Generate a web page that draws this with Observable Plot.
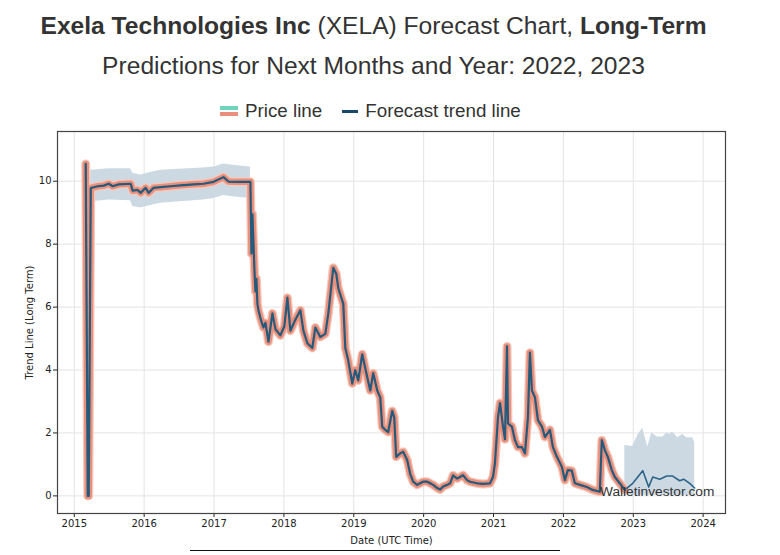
<!DOCTYPE html>
<html>
<head>
<meta charset="utf-8">
<script src="https://cdn.jsdelivr.net/npm/d3@7"></script>
<script src="https://cdn.jsdelivr.net/npm/@observablehq/plot@0.6"></script>
<style>
  html, body { margin: 0; padding: 0; background: #fff; }
  #wrap { position: relative; width: 780px; height: 555px; overflow: hidden; font-family: "Liberation Sans", Arial, sans-serif; }
  #title { position: absolute; top: 12px; left: 0; width: 747px; text-align: center; font-size: 24.6px; color: #333; white-space: nowrap; }
  #subtitle { position: absolute; top: 52px; left: 0; width: 747px; text-align: center; font-size: 24.6px; color: #333; white-space: nowrap; }
  #legend { position: absolute; top: 100px; left: 220px; font-size: 18.8px; color: #333; white-space: nowrap; display: flex; align-items: center; }
  .sw2 { display: inline-block; width: 18px; height: 10px; margin-right: 7px; position: relative; }
  .sw2 .a { position: absolute; left: 0; top: 0; width: 18px; height: 4px; background: #6fd4bc; }
  .sw2 .b { position: absolute; left: 0; top: 6px; width: 18px; height: 4px; background: #ea8f7b; }
  .sw1 { display: inline-block; width: 16px; height: 3px; background: #17486b; margin-right: 7px; }
  #chart { position: absolute; top: 120px; left: 0; }
  #wm { position: absolute; top: 484px; left: 600px; font-size: 13.7px; color: #333; white-space: nowrap; }
  #rule { position: absolute; top: 550px; left: 190px; width: 370px; height: 0; border-top: 1px solid #111; }
</style>
</head>
<body>
<div id="wrap">
  <div id="title"><b>Exela Technologies Inc</b> (XELA) Forecast Chart, <b>Long-Term</b></div>
  <div id="subtitle">Predictions for Next Months and Year: 2022, 2023</div>
  <div id="legend"><span class="sw2"><span class="a"></span><span class="b"></span></span><span>Price line</span><span style="display:inline-block;width:20px"></span><span class="sw1"></span><span>Forecast trend line</span></div>
  <div id="chart"></div>
  <div id="wm">Walletinvestor.com</div>
  <div id="rule"></div>
</div>
<script>
// Dates as decimal years
const priceYears = [
  2015.164, 2015.193, 2015.207, 2015.236, 2015.264, 2015.336, 2015.421, 2015.493, 2015.55, 2015.636,
  2015.807, 2015.836, 2015.907, 2015.95, 2016.021, 2016.064, 2016.136, 2016.236, 2016.379, 2016.521,
  2016.707, 2016.85, 2016.993, 2017.136, 2017.207, 2017.336, 2017.493, 2017.521, 2017.536, 2017.55,
  2017.579, 2017.593, 2017.607, 2017.621, 2017.636, 2017.664, 2017.707, 2017.736, 2017.779, 2017.836,
  2017.879, 2017.95, 2018.007, 2018.05, 2018.093, 2018.164, 2018.236, 2018.279, 2018.336, 2018.407,
  2018.45, 2018.521, 2018.593, 2018.636, 2018.707, 2018.75, 2018.779, 2018.807, 2018.85, 2018.879,
  2018.921, 2018.979, 2019.021, 2019.064, 2019.121, 2019.193, 2019.236, 2019.279, 2019.336, 2019.379,
  2019.407, 2019.45, 2019.493, 2019.55, 2019.579, 2019.607, 2019.664, 2019.707, 2019.764, 2019.807,
  2019.85, 2019.907, 2019.95, 2019.993, 2020.05, 2020.093, 2020.136, 2020.193, 2020.236, 2020.279,
  2020.336, 2020.379, 2020.421, 2020.479, 2020.521, 2020.564, 2020.621, 2020.664, 2020.764, 2020.85,
  2020.95, 2020.993, 2021.021, 2021.064, 2021.093, 2021.136, 2021.164, 2021.193, 2021.207, 2021.264,
  2021.307, 2021.35, 2021.407, 2021.45, 2021.493, 2021.521, 2021.55, 2021.593, 2021.636, 2021.693,
  2021.736, 2021.807, 2021.85, 2021.907, 2021.979, 2022.021, 2022.064, 2022.121, 2022.164, 2022.236,
  2022.336, 2022.421, 2022.521, 2022.55, 2022.593, 2022.636, 2022.693, 2022.736, 2022.807, 2022.879
];
const priceValues = [
  10.55, 0, 0, 9.78, 9.8, 9.84, 9.86, 9.92, 9.84, 9.9,
  9.92, 9.7, 9.72, 9.63, 9.79, 9.63, 9.79, 9.81, 9.84, 9.87,
  9.9, 9.92, 9.98, 10.13, 9.99, 9.98, 9.98, 9.98, 7.7, 8.95,
  7.15, 6.5, 6.9, 6.1, 5.9, 5.65, 5.35, 5.5, 4.9, 5.8,
  5.3, 5.1, 5.4, 6.3, 5.25, 5.6, 5.9, 5.25, 4.85, 4.7,
  5.35, 5.05, 5.15, 5.8, 7.25, 7.05, 6.6, 6.4, 6.1, 4.7,
  4.3, 3.57, 4.0, 3.67, 4.5, 3.77, 3.35, 3.9, 3.35, 3.13,
  2.2, 2.1, 2.03, 2.7, 2.5, 1.24, 1.35, 1.4, 1.14, 0.7,
  0.45, 0.35, 0.4, 0.45, 0.45, 0.4, 0.35, 0.25, 0.2, 0.3,
  0.35, 0.4, 0.65, 0.55, 0.6, 0.66, 0.5, 0.45, 0.4, 0.38,
  0.4, 0.6, 1.05, 2.5, 2.95, 2.2, 1.8, 4.75, 2.3, 2.2,
  1.77, 1.55, 1.55, 1.35, 2.5, 4.55, 3.35, 3.13, 2.4, 2.2,
  1.87, 2.1, 1.55, 1.24, 0.92, 0.5, 0.82, 0.8, 0.4, 0.35,
  0.28, 0.19, 0.13, 1.77, 1.45, 1.24, 0.82, 0.6, 0.4, 0.19
];

// Historic confidence band of the trend line
const bandYears = [2015.236, 2015.5, 2015.807, 2015.836, 2015.95, 2016.136, 2016.236, 2016.5, 2016.85, 2017.0, 2017.136, 2017.3, 2017.521];
const bandLow   = [9.35, 9.4, 9.38, 9.2, 9.15, 9.25, 9.3, 9.35, 9.4, 9.45, 9.55, 9.5, 9.45];
const bandHigh  = [10.35, 10.4, 10.4, 10.25, 10.2, 10.3, 10.35, 10.38, 10.42, 10.45, 10.55, 10.5, 10.45];

// Forecast trend line and its band
const forecastYears = [2022.879, 2022.993, 2023.136, 2023.221, 2023.279, 2023.379, 2023.479, 2023.564, 2023.664, 2023.721, 2023.807, 2023.879];
const forecastValues = [0.19, 0.4, 0.8, 0.28, 0.6, 0.53, 0.63, 0.63, 0.48, 0.53, 0.4, 0.25];
const fBandYears = [2022.879, 2022.993, 2023.064, 2023.136, 2023.207, 2023.264, 2023.336, 2023.421, 2023.479, 2023.521, 2023.564, 2023.636, 2023.707, 2023.764, 2023.85, 2023.879];
const fBandHigh  = [1.6, 1.57, 1.93, 2.15, 1.55, 2.0, 1.88, 1.86, 2.0, 1.95, 2.03, 1.85, 1.95, 1.85, 1.85, 1.7];
const fBandLow   = [0.02, 0.02, 0.02, 0.02, 0.02, 0.02, 0.02, 0.02, 0.02, 0.02, 0.02, 0.02, 0.02, 0.02, 0.02, 0.02];

const xTicks = [2015, 2016, 2017, 2018, 2019, 2020, 2021, 2022, 2023, 2024];
const yTicks = [0, 2, 4, 6, 8, 10];

const price = priceYears.map((t, i) => ({t, v: priceValues[i]}));
const band = bandYears.map((t, i) => ({t, lo: bandLow[i], hi: bandHigh[i]}));
const forecast = forecastYears.map((t, i) => ({t, v: forecastValues[i]}));
const fBand = fBandYears.map((t, i) => ({t, lo: fBandLow[i], hi: fBandHigh[i]}));

const chart = Plot.plot({
  width: 780,
  height: 435,
  marginLeft: 57,
  marginRight: 55,
  marginTop: 11,
  marginBottom: 42,
  style: {fontFamily: "DejaVu Sans, sans-serif", fontSize: "10px", color: "#222", background: "transparent"},
  x: {domain: [2014.76, 2024.32], ticks: xTicks, tickFormat: "d", label: "Date (UTC Time)", labelAnchor: "center", labelArrow: "none", tickSize: 4, tickPadding: 2, labelOffset: 30},
  y: {domain: [-0.56, 11.58], ticks: yTicks, label: "Trend Line (Long Term)", labelAnchor: "center", labelArrow: "none", tickSize: 4, tickPadding: 2, labelOffset: 32},
  marks: [
    Plot.gridX(xTicks, {stroke: "#e3e3e3", strokeOpacity: 1}),
    Plot.gridY(yTicks, {stroke: "#e3e3e3", strokeOpacity: 1}),
    Plot.areaY(band, {x: "t", y1: "lo", y2: "hi", fill: "#c9d7e2", fillOpacity: 0.95}),
    Plot.areaY(fBand, {x: "t", y1: "lo", y2: "hi", fill: "#c9d7e2", fillOpacity: 0.95}),
    Plot.line(price, {x: "t", y: "v", stroke: "#f5cabe", strokeWidth: 9, strokeLinejoin: "round"}),
    Plot.line(price, {x: "t", y: "v", stroke: "#e8907c", strokeWidth: 6.5, strokeLinejoin: "round"}),
    Plot.line(price, {x: "t", y: "v", stroke: "#245a7c", strokeWidth: 2.2, strokeLinejoin: "round"}),
    Plot.line(forecast, {x: "t", y: "v", stroke: "#2b6387", strokeWidth: 1.6}),
    Plot.frame({stroke: "#444", strokeWidth: 1.2})
  ]
});
document.getElementById("chart").appendChild(chart);
</script>
</body>
</html>
